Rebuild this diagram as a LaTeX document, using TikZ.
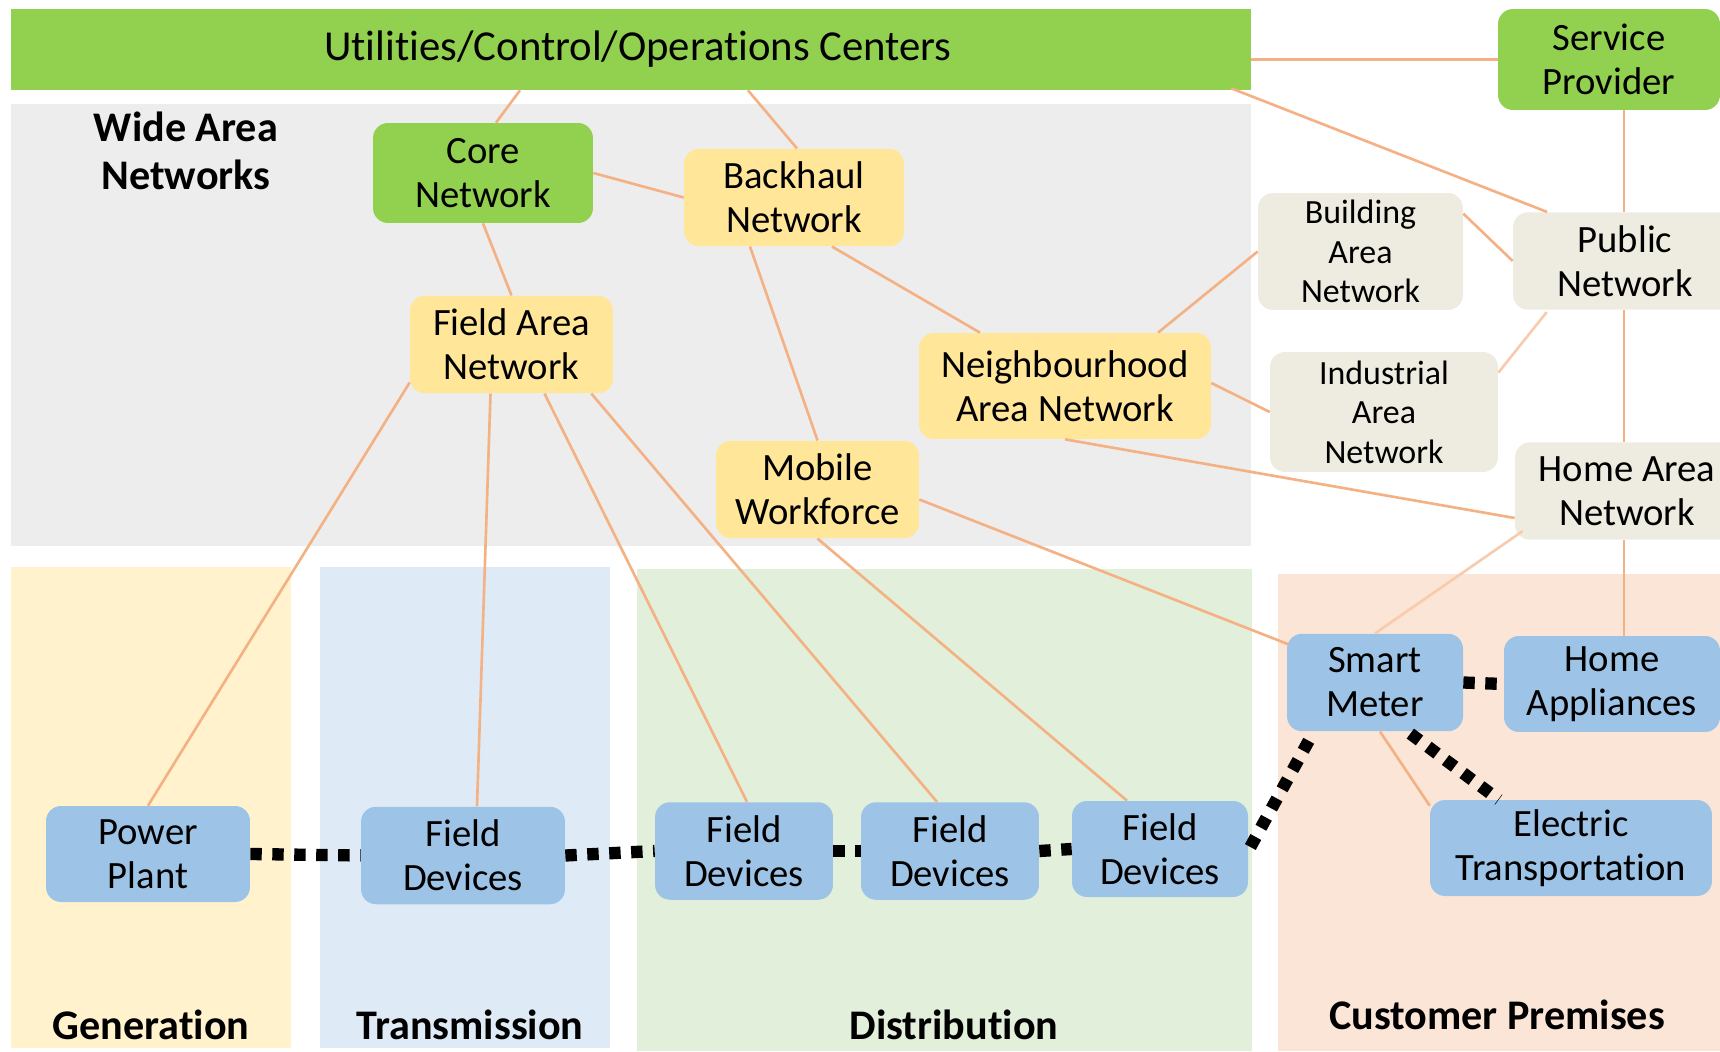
\documentclass[tikz,border=0pt]{standalone}
\usepackage{fontspec}
\setmainfont{Carlito}[Ligatures=NoCommon]
\usepackage{xcolor}
\usepackage{tikz}
\usetikzlibrary{calc}
\definecolor{ctrGreen}{HTML}{92D050}
\definecolor{wanYellow}{HTML}{FFE699}
\definecolor{areaBeige}{HTML}{EEECE1}
\definecolor{devBlue}{HTML}{9DC3E6}
\definecolor{wanGray}{HTML}{EDEDED}
\definecolor{genYellow}{HTML}{FFF2CC}
\definecolor{transBlue}{HTML}{DEEBF7}
\definecolor{distGreen}{HTML}{E2EFDA}
\definecolor{custRose}{HTML}{FBE5D6}
\definecolor{linkOrange}{HTML}{F4B183}
\definecolor{linkLight}{HTML}{F8CBAD}
\tikzset{%
  % Specifications for style of nodes:
          box/.style = {rectangle, rounded corners=0.3cm, inner sep=0pt,
                        minimum height=1.95cm, text centered, align=center,
                        font=\fontsize{22}{25}\selectfont},
     greenBox/.style = {box, fill=ctrGreen},
    yellowBox/.style = {box, fill=wanYellow},
     beigeBox/.style = {box, fill=areaBeige},
   smallBeige/.style = {beigeBox, font=\fontsize{19.3}{22.5}\selectfont},
      blueBox/.style = {box, fill=devBlue},
    areaLabel/.style = {align=center, inner sep=0pt,
                        font=\fontsize{24}{27}\selectfont\bfseries},
  % Specifications for style of lines:
         link/.style = {draw=linkOrange, line width=1.5pt},
    lightLink/.style = {draw=linkLight, line width=1.5pt},
    powerFlow/.style = {draw=black, line width=7pt, dash pattern=on 6.5pt off 6pt},
}
\begin{document}
\begin{tikzpicture}[x=0.02cm, y=-0.02cm]
  \useasboundingbox (0,0) rectangle (1720,1051);
  % Background areas
  \fill[wanGray]    (11,104)   rectangle (1251,546);
  \fill[genYellow]  (11,567)   rectangle (291,1048);
  \fill[transBlue]  (320,567)  rectangle (610,1048);
  \fill[distGreen]  (637,569)  rectangle (1252,1051);
  \fill[custRose]   (1278,574) rectangle (1720,1051);

  % Labels of the areas
  \node (wanLabel)   [areaLabel] at (186,151)  {Wide Area\\Networks};
  \node (genLabel)   [areaLabel] at (151,1025) {Generation};
  \node (transLabel) [areaLabel] at (470,1025) {Transmission};
  \node (distLabel)  [areaLabel] at (954,1025) {Distribution};
  \node (custLabel)  [areaLabel] at (1497,1015) {Customer Premises};

  % Specification of nodes (position, etc.)
  \node (utilities)       [greenBox, rounded corners=0pt, minimum width=24.8cm,
                           minimum height=1.62cm, font=\fontsize{24.3}{28}\selectfont]
                           at (631,49.5)  {\hspace*{0.28cm}Utilities/Control/Operations Centers};
  \node (serviceProvider) [greenBox, minimum width=4.44cm, minimum height=2.02cm]
                           at (1609,59.5)      {Service\\Provider};
  \node (coreNetwork)     [greenBox, minimum width=4.4cm, minimum height=2cm]
                           at (483,173)        {Core\\Network};
  \node (backhaulNetwork) [yellowBox, minimum width=4.4cm] at (794,197.5)
                                               {Backhaul\\Network};
  \node (fieldAreaNetwork) [yellowBox, minimum width=4.06cm] at (511.5,344.5)
                                               {Field Area\\Network};
  \node (neighbourhoodNetwork) [yellowBox, minimum width=5.84cm,
                           minimum height=2.12cm] at (1065,386)
                                               {Neighbourhood\\Area Network};
  \node (mobileWorkforce) [yellowBox, minimum width=4.06cm] at (817.5,489.5)
                                               {Mobile\\Workforce};
  \node (buildingNetwork) [smallBeige, minimum width=4.1cm, minimum height=2.34cm]
                           at (1360.5,251.5)   {Building\\Area\\Network};
  \node (industrialNetwork) [smallBeige, minimum width=4.56cm, minimum height=2.4cm]
                           at (1384,412)       {Industrial\\Area\\Network};
  \node (publicNetwork)   [beigeBox, minimum width=4.48cm] at (1625,261)
                                               {Public\\Network};
  \node (homeAreaNetwork) [beigeBox, minimum width=4.48cm] at (1627,491)
                                               {Home Area\\Network};
  \node (powerPlant)      [blueBox, minimum width=4.08cm, minimum height=1.92cm]
                           at (148,854)        {Power\\Plant};
  \node (fieldDevicesA)   [blueBox, minimum width=4.08cm] at (463,855.5)
                                               {Field\\Devices};
  \node (fieldDevicesB)   [blueBox, minimum width=3.56cm] at (744,851)
                                               {Field\\Devices};
  \node (fieldDevicesC)   [blueBox, minimum width=3.56cm] at (950,851)
                                               {Field\\Devices};
  \node (fieldDevicesD)   [blueBox, minimum width=3.52cm, minimum height=1.92cm]
                           at (1160,849)       {Field\\Devices};
  \node (smartMeter)      [blueBox, minimum width=3.52cm] at (1375,682.5)
                                               {Smart\\Meter};
  \node (homeAppliances)  [blueBox, minimum width=4.32cm, minimum height=1.92cm]
                           at (1612,684)       {Home\\Appliances};
  \node (electricTransport) [blueBox, minimum width=5.64cm, minimum height=1.92cm]
                           at (1571,848)       {Electric\\Transportation};

  % Communication links between the nodes
  \draw[link] ($(utilities.south)+(-111,0)$) -- ($(coreNetwork.north)+(13,0)$);
  \draw[link] ($(utilities.south)+(117,0)$) -- ($(backhaulNetwork.north)+(3,0)$);
  \draw[link] ($(utilities.south east)+(-20,-2)$) -- ($(publicNetwork.north)+(-78,0)$);
  \draw[link] (serviceProvider.west -| utilities.east) -- (serviceProvider.west);
  \draw[link] ($(serviceProvider.south)+(15,0)$) -- ($(publicNetwork.north)+(-1,0)$);
  \draw[link] (coreNetwork.east) -- (backhaulNetwork.west);
  \draw[link] (coreNetwork.south) -- (fieldAreaNetwork.north);
  \draw[link] ($(backhaulNetwork.south)+(-44,0)$) -- (mobileWorkforce.north);
  \draw[link] ($(backhaulNetwork.south)+(38,0)$)
              -- ($(neighbourhoodNetwork.north)+(-85,0)$);
  \draw[link] ($(buildingNetwork.north east)+(0,21)$) -- (publicNetwork.west);
  \draw[lightLink] ($(publicNetwork.south west)+(34,2)$)
              -- ($(industrialNetwork.north east)+(0,21)$);
  \draw[link] ($(publicNetwork.south)+(-1,0)$) -- ($(homeAreaNetwork.north)+(-3,0)$);
  \draw[link] ($(neighbourhoodNetwork.north)+(93,0)$) -- (buildingNetwork.west);
  \draw[link] ($(neighbourhoodNetwork.east)+(0,-3)$) -- (industrialNetwork.west);
  \draw[link] (neighbourhoodNetwork.south) -- ($(homeAreaNetwork.west)+(0,27)$);
  \draw[link] ($(fieldAreaNetwork.west)+(0,38)$) -- (powerPlant.north);
  \draw[link] ($(fieldAreaNetwork.south)+(-21,0)$) -- ($(fieldDevicesA.north)+(14,0)$);
  \draw[link] ($(fieldAreaNetwork.south)+(33,0)$) -- ($(fieldDevicesB.north)+(3,0)$);
  \draw[link] ($(fieldAreaNetwork.south east)+(-22,0)$)
              -- ($(fieldDevicesC.north)+(-13,0)$);
  \draw[link] (mobileWorkforce.south) -- ($(fieldDevicesD.north)+(-33,0)$);
  \draw[link] ($(mobileWorkforce.east)+(0,10)$) -- ($(smartMeter.north west)+(2,11)$);
  \draw[lightLink] ($(homeAreaNetwork.south west)+(8,-9)$) -- (smartMeter.north);
  \draw[link] ($(homeAreaNetwork.south)+(-3,0)$) -- ($(homeAppliances.north)+(12,0)$);
  \draw[link] ($(smartMeter.south)+(5,0)$) -- ($(electricTransport.north west)+(0,6)$);

  % Power flow (dotted)
  \draw[powerFlow] (powerPlant.east) -- (fieldDevicesA.west);
  \draw[powerFlow] (fieldDevicesA.east) -- (fieldDevicesB.west);
  \draw[powerFlow] (fieldDevicesB.east) -- (fieldDevicesC.west);
  \draw[powerFlow] (fieldDevicesC.east) -- (fieldDevicesD.west);
  \draw[powerFlow] ($(fieldDevicesD.east)+(2,-2)$) -- ($(smartMeter.south west)+(26,2)$);
  \draw[powerFlow] (smartMeter.east) -- (homeAppliances.west);
  \draw[powerFlow] ($(smartMeter.south east)+(-53,2)$)
                   -- ($(electricTransport.north west)+(69,0)$);
\end{tikzpicture}
\end{document}
